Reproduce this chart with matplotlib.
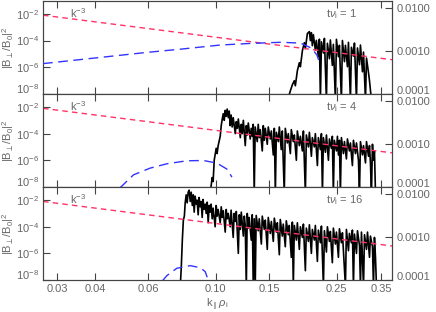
import numpy as np
import matplotlib
matplotlib.use("Agg")
import matplotlib.pyplot as plt
from matplotlib.ticker import FixedLocator, FixedFormatter, NullLocator

plt.rcParams["font.family"] = ["Liberation Sans", "DejaVu Sans"]
plt.rcParams["mathtext.fontset"] = "custom"
plt.rcParams["mathtext.rm"] = "Liberation Sans"
plt.rcParams["mathtext.it"] = "Liberation Sans:italic"

# ---- data ----
times = [1, 4, 16]

# k^-3 reference line (left axis)
ref_k = [0.027, 0.38]
ref_amp = [8.0e-3, 3.6e-6]

# linear growth rate (right axis), dashed blue
gam_k1 = [0.027, 0.0593, 0.0764, 0.1034, 0.1298, 0.163, 0.190, 0.207, 0.2154, 0.2197]
gam_v1 = [5.0e-4, 9.1e-4, 1.08e-3, 1.35e-3, 1.47e-3, 1.56e-3, 1.50e-3, 1.13e-3, 7.8e-4, 5.0e-4]
gam_k2 = [0.0484, 0.0536, 0.0608, 0.0690, 0.0803, 0.0911, 0.1008, 0.1088, 0.1130]
gam_v2 = [0.95e-4, 1.9e-4, 2.72e-4, 3.43e-4, 4.03e-4, 4.09e-4, 3.56e-4, 2.58e-4, 1.68e-4]
gam_k3 = [0.0667, 0.0690, 0.0744, 0.0824, 0.0889, 0.0923, 0.0946]
gam_v3 = [0.95e-4, 1.26e-4, 1.87e-4, 2.15e-4, 1.93e-4, 1.56e-4, 0.95e-4]

# magnetic spectrum, log10 |B/B0|^2
spec_k1 = [0.1732, 0.1759, 0.1786, 0.1813, 0.1827, 0.1855, 0.1883, 0.1898, 0.1927, 0.1956,
           0.1971, 0.2001, 0.2032, 0.2047, 0.2063, 0.2078, 0.2094, 0.2126, 0.2142, 0.2175,
           0.2192, 0.2209, 0.2226, 0.2260, 0.2277, 0.2312, 0.2329, 0.2365, 0.2382, 0.2418,
           0.2437, 0.2475, 0.2494, 0.2532, 0.2551, 0.2590, 0.2610, 0.2650, 0.2670, 0.2711,
           0.2732, 0.2773, 0.2794, 0.2837, 0.2859, 0.2903, 0.2925, 0.2970, 0.2992, 0.3038,
           0.3062, 0.3108, 0.3132, 0.3180, 0.3204, 0.3252]
spec_l1 = [-8.3, -7.78, -7.33, -7.02, -7.40, -6.27, -5.67, -5.97, -4.77, -4.16,
           -4.61, -3.48, -3.33, -4.01, -3.41, -4.39, -3.56, -4.72, -3.99, -5.22,
           -3.9, -8.5, -4.1, -4.94, -3.84, -8.5, -4.21, -5.37, -3.96, -5.87,
           -4.29, -8.5, -3.91, -5.22, -4.36, -8.5, -4.0, -5.59, -4.36, -5.97,
           -4.14, -8.5, -4.51, -5.17, -4.19, -8.5, -4.56, -5.82, -4.34, -6.35,
           -4.87, -8.5, -5.32, -6.42, -7.02, -8.5]

spec_k2 = [0.0958, 0.0973, 0.0980, 0.0988, 0.1003, 0.1010, 0.1018, 0.1034, 0.1042, 0.1050,
           0.1058, 0.1066, 0.1074, 0.1082, 0.1090, 0.1099, 0.1107, 0.1115, 0.1123, 0.1132,
           0.1141, 0.1159, 0.1168, 0.1177, 0.1186, 0.1204, 0.1213, 0.1222, 0.1232, 0.1250,
           0.1260, 0.1269, 0.1279, 0.1298, 0.1308, 0.1318, 0.1328, 0.1338, 0.1348, 0.1369,
           0.1379, 0.1390, 0.1401, 0.1422, 0.1433, 0.1444, 0.1455, 0.1477, 0.1488, 0.1511,
           0.1523, 0.1546, 0.1558, 0.1570, 0.1582, 0.1606, 0.1618, 0.1642, 0.1655, 0.1680,
           0.1693, 0.1719, 0.1732, 0.1759, 0.1772, 0.1799, 0.1813, 0.1841, 0.1855, 0.1883,
           0.1898, 0.1927, 0.1942, 0.1971, 0.1986, 0.2017, 0.2032, 0.2063, 0.2078, 0.2110,
           0.2126, 0.2159, 0.2175, 0.2209, 0.2226, 0.2243, 0.2260, 0.2294, 0.2312, 0.2347,
           0.2365, 0.2400, 0.2418, 0.2437, 0.2455, 0.2494, 0.2513, 0.2532, 0.2551, 0.2570,
           0.2590, 0.2630, 0.2650, 0.2690, 0.2711, 0.2752, 0.2773, 0.2815, 0.2837, 0.2881,
           0.2903, 0.2947, 0.2970, 0.2992, 0.3038, 0.3062, 0.3108, 0.3132, 0.3180, 0.3204,
           0.3227, 0.3252, 0.3277, 0.3302, 0.3327, 0.3353]
spec_l2 = [-8.5, -7.3, -7.6, -6.0, -5.1, -5.5, -4.9, -4.2, -3.4, -2.9,
           -2.5, -3.0, -2.25, -2.7, -2.15, -2.8, -2.3, -3.4, -2.6, -3.5,
           -2.8, -4.0, -3.1, -3.6, -2.9, -4.3, -3.3, -4.0, -3.0, -4.9,
           -3.4, -4.1, -3.2, -4.4, -3.6, -4.2, -3.3, -8.5, -3.5, -4.6,
           -3.3, -4.3, -3.7, -5.3, -3.4, -4.5, -3.6, -4.8, -3.5, -4.4,
           -3.8, -5.6, -3.6, -8.5, -3.9, -4.6, -3.5, -5.2, -3.8, -8.5,
           -3.6, -4.7, -4.0, -5.5, -3.7, -4.6, -4.1, -6.0, -3.8, -4.9,
           -4.2, -5.3, -3.8, -8.5, -4.1, -5.0, -3.9, -5.7, -4.3, -5.0,
           -4.0, -6.4, -4.3, -5.2, -4.0, -8.5, -4.3, -5.4, -4.1, -6.0,
           -4.4, -5.1, -4.2, -8.5, -4.5, -5.3, -4.2, -5.6, -4.5, -8.5,
           -4.3, -5.5, -4.6, -5.9, -4.4, -5.3, -4.7, -6.4, -4.5, -5.5,
           -4.7, -6.0, -8.5, -4.6, -5.6, -4.9, -6.2, -4.6, -5.7, -4.9,
           -6.2, -8.5, -4.8, -6.0, -5.3, -8.5]

spec_k3 = [0.0764, 0.0770, 0.0776, 0.0782, 0.0788, 0.0793, 0.0799, 0.0805, 0.0811, 0.0817,
           0.0824, 0.0830, 0.0837, 0.0843, 0.0849, 0.0855, 0.0862, 0.0868, 0.0875, 0.0881,
           0.0888, 0.0895, 0.0902, 0.0908, 0.0915, 0.0923, 0.0930, 0.0937, 0.0944, 0.0951,
           0.0958, 0.0965, 0.0973, 0.0980, 0.0995, 0.1003, 0.1010, 0.1018, 0.1034, 0.1042,
           0.1050, 0.1058, 0.1074, 0.1082, 0.1090, 0.1099, 0.1115, 0.1123, 0.1141, 0.1149,
           0.1159, 0.1168, 0.1186, 0.1195, 0.1204, 0.1213, 0.1232, 0.1241, 0.1250, 0.1260,
           0.1269, 0.1279, 0.1288, 0.1308, 0.1318, 0.1328, 0.1338, 0.1348, 0.1358, 0.1379,
           0.1390, 0.1412, 0.1422, 0.1444, 0.1455, 0.1477, 0.1488, 0.1511, 0.1523, 0.1546,
           0.1558, 0.1582, 0.1594, 0.1618, 0.1630, 0.1655, 0.1667, 0.1693, 0.1706, 0.1732,
           0.1745, 0.1772, 0.1786, 0.1799, 0.1813, 0.1841, 0.1855, 0.1883, 0.1898, 0.1927,
           0.1942, 0.1971, 0.1986, 0.2017, 0.2032, 0.2063, 0.2078, 0.2110, 0.2126, 0.2159,
           0.2175, 0.2209, 0.2226, 0.2260, 0.2277, 0.2312, 0.2329, 0.2365, 0.2382, 0.2418,
           0.2437, 0.2475, 0.2494, 0.2532, 0.2551, 0.2590, 0.2610, 0.2670, 0.2690, 0.2732,
           0.2752, 0.2794, 0.2815, 0.2837, 0.2859, 0.2903, 0.2925, 0.2970, 0.2992, 0.3015,
           0.3062, 0.3085, 0.3132, 0.3156, 0.3204, 0.3227, 0.3277, 0.3302, 0.3327, 0.3353,
           0.3378]
spec_l3 = [-8.5, -7.0, -5.0, -3.5, -3.2, -2.2, -1.6, -2.2, -1.4, -1.25,
           -2.1, -1.4, -2.4, -1.6, -2.9, -1.7, -2.3, -2.0, -3.1, -1.8,
           -2.5, -2.1, -3.3, -1.95, -2.7, -2.3, -3.0, -2.15, -3.7, -2.4,
           -2.9, -2.3, -3.4, -2.6, -4.0, -2.4, -3.2, -2.7, -3.7, -2.5,
           -3.3, -2.8, -4.4, -2.7, -3.4, -3.0, -4.0, -2.75, -4.8, -3.0,
           -3.6, -2.85, -6.0, -3.1, -4.2, -2.9, -4.7, -3.2, -3.9, -8.5,
           -3.0, -4.1, -3.3, -5.0, -3.1, -8.5, -3.4, -8.5, -3.15, -4.3,
           -3.4, -5.3, -3.2, -4.2, -3.5, -5.7, -3.3, -4.5, -3.6, -5.1,
           -3.35, -4.4, -3.7, -6.1, -3.45, -4.7, -3.8, -5.5, -3.55, -4.6,
           -3.9, -6.3, -3.65, -8.5, -3.9, -5.0, -3.7, -5.7, -4.0, -4.8,
           -3.8, -7.3, -4.1, -5.1, -3.85, -6.0, -4.2, -5.0, -3.9, -6.6,
           -4.25, -5.2, -3.95, -8.5, -4.3, -5.9, -4.0, -5.1, -4.35, -6.7,
           -4.1, -5.3, -4.4, -6.3, -4.15, -5.2, -4.45, -8.5, -4.2, -5.8,
           -4.5, -5.2, -4.25, -8.5, -4.55, -6.0, -4.3, -5.4, -8.5, -4.4,
           -8.5, -4.6, -5.7, -4.4, -6.3, -4.7, -5.5, -8.5, -4.8, -6.3,
           -8.5]

spec_k = [spec_k1, spec_k2, spec_k3]
spec_l = [spec_l1, spec_l2, spec_l3]
gam_k = [gam_k1, gam_k2, gam_k3]
gam_v = [gam_v1, gam_v2, gam_v3]

xticks = [0.03, 0.04, 0.06, 0.10, 0.15, 0.25, 0.35]
xtick_labels = ["0.03", "0.04", "0.06", "0.10", "0.15", "0.25", "0.35"]
yticks = [1e-8, 1e-6, 1e-4, 1e-2]
ytick_labels = ["10$^{-8}$", "10$^{-6}$", "10$^{-4}$", "10$^{-2}$"]
rticks = [1e-4, 1e-3, 1e-2]
rtick_labels = ["0.0001", "0.0010", "0.0100"]

txt = "#666666"
spine = "#444444"

fig = plt.figure(figsize=(4.36, 3.12), dpi=100)
bottoms = [0.6996, 0.4011, 0.1026]
h = 0.2985

for i in range(3):
    ax = fig.add_axes([0.0986, bottoms[i], 0.8005, h])
    ax.set_xscale("log")
    ax.set_yscale("log")
    ax.set_xlim(0.027, 0.38)
    ax.set_ylim(1e-8, 1e-1)

    ax.plot(spec_k[i], 10.0 ** np.array(spec_l[i]), color="black", lw=1.2, zorder=2)
    ax.plot(ref_k, ref_amp, color="#ff3366", lw=1.0, dashes=(4, 3), zorder=3)
    ax.text(0.077, 0.87, "k$^{-3}$", transform=ax.transAxes, color=txt,
            fontsize=8, va="center")
    ax.text(0.81, 0.86, "t$\\nu_{\\rm i}$ = %d" % times[i], transform=ax.transAxes,
            color=txt, fontsize=8, va="center")

    ax.xaxis.set_major_locator(FixedLocator(xticks))
    ax.xaxis.set_minor_locator(NullLocator())
    ax.yaxis.set_major_locator(FixedLocator(yticks))
    ax.yaxis.set_major_formatter(FixedFormatter(ytick_labels))
    ax.yaxis.set_minor_locator(NullLocator())
    ax.tick_params(axis="both", which="major", direction="in", length=5, width=0.8,
                   color=spine, labelcolor=txt, labelsize=8, top=True, pad=3)
    if i == 2:
        ax.xaxis.set_major_formatter(FixedFormatter(xtick_labels))
        ax.set_xlabel("k$_{\\parallel}\\rho_{\\rm i}$", color=txt, fontsize=8, labelpad=2)
    else:
        ax.tick_params(axis="x", labelbottom=False)
    ax.set_ylabel("|B$_{\\perp}$/B$_0$|$^2$", color=txt, fontsize=8)
    ax.yaxis.set_label_coords(-0.078, 0.5)
    for s in ax.spines.values():
        s.set_color(spine)
        s.set_linewidth(0.8)

    ax2 = ax.twinx()
    ax2.set_yscale("log")
    ax2.set_ylim(1e-4, 1.45e-2)
    ax2.plot(gam_k[i], gam_v[i], color="#3333ff", lw=1.0, dashes=(7, 4), zorder=3)
    ax2.yaxis.set_major_locator(FixedLocator(rticks))
    ax2.yaxis.set_major_formatter(FixedFormatter(rtick_labels))
    ax2.yaxis.set_minor_locator(NullLocator())
    ax2.tick_params(axis="y", direction="in", length=5, width=0.8, color=spine,
                    labelcolor=txt, labelsize=8, pad=3)
    for s in ax2.spines.values():
        s.set_color(spine)
        s.set_linewidth(0.8)

    # bottom labels sit just above the lower spine, as in the original
    ax.yaxis.get_major_ticks()[0].label1.set_va("baseline")
    ax2.yaxis.get_major_ticks()[0].label2.set_va("baseline")

fig.savefig("out.png", dpi=100)
